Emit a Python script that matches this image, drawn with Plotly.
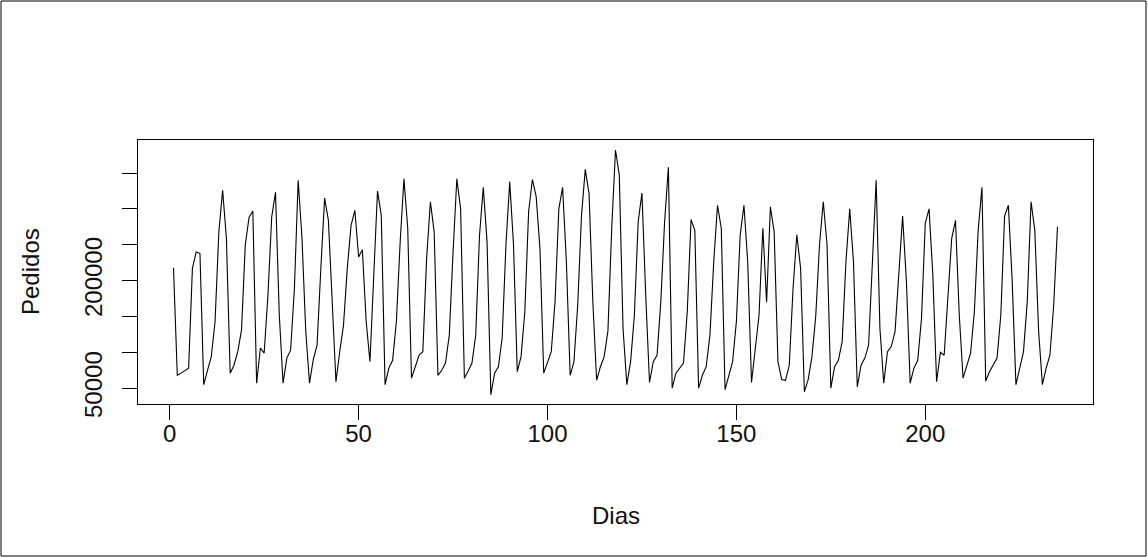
import plotly.graph_objects as go

# Daily orders (Pedidos), days 1..235
pedidos = [
    218000, 68000, 71000, 74000, 78000, 217000, 240000, 238000, 55000, 75000,
    94000, 143000, 268000, 326000, 259000, 71000, 82000, 101000, 131000, 250000,
    288000, 297000, 57000, 106000, 99000, 180000, 289000, 323000, 152000, 57000,
    92000, 103000, 189000, 340000, 260000, 130000, 57000, 90000, 110000, 217000,
    315000, 284000, 171000, 59000, 101000, 138000, 217000, 277000, 298000, 233000,
    243000, 143000, 87000, 208000, 325000, 291000, 55000, 78000, 89000, 143000,
    254000, 342000, 273000, 64000, 80000, 96000, 101000, 231000, 310000, 268000,
    68000, 75000, 85000, 124000, 240000, 342000, 300000, 64000, 74000, 85000,
    124000, 263000, 330000, 254000, 41000, 71000, 80000, 120000, 250000, 338000,
    250000, 73000, 94000, 157000, 296000, 341000, 317000, 245000, 71000, 87000,
    101000, 171000, 300000, 330000, 226000, 68000, 87000, 166000, 291000, 355000,
    321000, 171000, 61000, 80000, 94000, 130000, 273000, 382000, 347000, 133000,
    55000, 87000, 152000, 282000, 322000, 180000, 58000, 87000, 96000, 171000,
    282000, 358000, 50000, 71000, 78000, 85000, 157000, 285000, 270000, 50000,
    68000, 80000, 124000, 226000, 305000, 273000, 48000, 68000, 87000, 143000,
    263000, 305000, 226000, 58000, 101000, 152000, 273000, 170000, 303000, 268000,
    87000, 62000, 61000, 82000, 189000, 264000, 217000, 45000, 62000, 94000,
    150000, 250000, 310000, 250000, 50000, 80000, 89000, 115000, 226000, 300000,
    226000, 52000, 82000, 92000, 110000, 217000, 340000, 133000, 57000, 101000,
    108000, 129000, 217000, 290000, 200000, 57000, 78000, 89000, 147000, 280000,
    300000, 208000, 59000, 100000, 96000, 171000, 259000, 284000, 152000, 64000,
    82000, 99000, 157000, 270000, 330000, 60000, 73000, 82000, 92000, 152000,
    290000, 305000, 200000, 55000, 80000, 101000, 171000, 310000, 270000, 130000,
    55000, 78000, 96000, 166000, 275000,
]
dias = list(range(1, len(pedidos) + 1))

x_tickvals = [0, 50, 100, 150, 200]
x_ticktext = ["0", "50", "100", "150", "200"]
y_tickvals = [50000, 100000, 150000, 200000, 250000, 300000, 350000]
y_ticktext = ["50000", "", "", "200000", "", "", ""]

W, H = 1148, 557
L, R, T, B = 138, 55, 140, 153
pw, ph = W - L - R, H - T - B

FONT = "Liberation Sans, Arial, sans-serif"
TXT = "#111111"

fig = go.Figure()
fig.add_trace(go.Scatter(
    x=dias, y=pedidos, mode="lines",
    line=dict(color="black", width=1.1),
    hoverinfo="skip", showlegend=False,
))

axis_common = dict(
    showline=True, linecolor="black", linewidth=1, mirror=True,
    ticks="outside", ticklen=15, tickcolor="black", tickwidth=1,
    showgrid=False, zeroline=False,
    tickfont=dict(family=FONT, size=24, color=TXT),
)

fig.update_xaxes(
    range=[-8.4, 244.4], tickmode="array",
    tickvals=x_tickvals, ticktext=x_ticktext,
    ticklabelstandoff=-7,
    **axis_common,
)
fig.update_yaxes(
    range=[28000, 396000], tickmode="array",
    tickvals=y_tickvals, ticktext=y_ticktext,
    tickangle=-90, ticklabelstandoff=10,
    **axis_common,
)

def px_to_paper_x(p):
    return (p - L) / pw

def px_to_paper_y(q):
    return (H - B - q) / ph

# Outer frame around the whole picture
fig.add_shape(
    type="rect", xref="paper", yref="paper",
    x0=px_to_paper_x(1), x1=px_to_paper_x(W - 2),
    y0=px_to_paper_y(H - 1), y1=px_to_paper_y(1),
    line=dict(color="black", width=1), fillcolor="rgba(0,0,0,0)",
    layer="above",
)

fig.add_annotation(
    text="Dias", xref="paper", yref="paper",
    x=0.5, y=px_to_paper_y(515), xanchor="center", yanchor="middle",
    showarrow=False, font=dict(family=FONT, size=24, color=TXT),
)
fig.add_annotation(
    text="Pedidos", xref="paper", yref="paper",
    x=px_to_paper_x(30), y=0.5, xanchor="center", yanchor="middle",
    textangle=-90, showarrow=False,
    font=dict(family=FONT, size=24, color=TXT),
)

fig.update_layout(
    width=W, height=H,
    margin=dict(l=L, r=R, t=T, b=B, pad=0),
    paper_bgcolor="white", plot_bgcolor="white",
    showlegend=False,
)

fig.write_html(
    "out.html",
    config={"displayModeBar": False},
    post_script="document.body.style.margin='0px';document.body.style.padding='0px';",
)
